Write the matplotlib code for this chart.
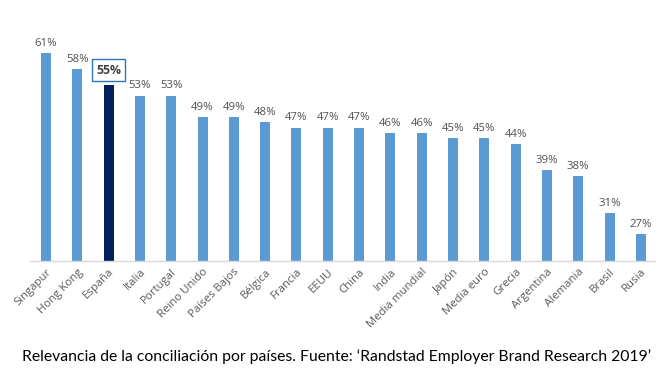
import matplotlib
matplotlib.use('Agg')
import matplotlib.pyplot as plt

paises = ['Singapur', 'Hong Kong', 'España', 'Italia', 'Portugal', 'Reino Unido',
          'Países Bajos', 'Bélgica', 'Francia', 'EEUU', 'China', 'India',
          'Media mundial', 'Japón', 'Media euro', 'Grecia', 'Argentina',
          'Alemania', 'Brasil', 'Rusia']
valores = [61, 58, 55, 53, 53, 49, 49, 48, 47, 47, 47, 46, 46, 45, 45, 44,
           39, 38, 31, 27]
destacado = 'España'

plt.rcParams['font.family'] = ['Open Sans', 'DejaVu Sans']

fig = plt.figure(figsize=(6.72, 3.78), dpi=100)
ax = fig.add_axes([30 / 672, 1 - 261 / 378, 625 / 672, 256 / 378])

colores = ['#002060' if p == destacado else '#5B9BD5' for p in paises]
x = list(range(len(paises)))
ax.bar(x, [v - 22 for v in valores], bottom=22, width=0.32, color=colores)

for i, (p, v) in enumerate(zip(paises, valores)):
    if p == destacado:
        ax.annotate(f'{v}%', (i, v), xytext=(0, 6), textcoords='offset points',
                    ha='center', va='bottom', fontsize=8.8, fontweight='bold',
                    color='#404040',
                    bbox=dict(boxstyle='square,pad=0.35', fc='white',
                              ec='#2E75B6', lw=1))
    else:
        ax.annotate(f'{v}%', (i, v), xytext=(0, 3), textcoords='offset points',
                    ha='center', va='bottom', fontsize=8.2, color='#505050')

ax.set_xlim(-0.51, 19.45)
ax.set_ylim(22, 70)
ax.set_yticks([])
ax.set_xticks(x)
ax.set_xticklabels(paises, rotation=45, ha='right', rotation_mode='anchor',
                   fontsize=8.2, color='#595959')
ax.tick_params(axis='x', length=0, pad=4)
for s in ['top', 'right', 'left']:
    ax.spines[s].set_visible(False)
ax.spines['bottom'].set_color('#D9D9D9')
ax.spines['bottom'].set_linewidth(1)

fig.text(22 / 672, 1 - 357 / 378,
         'Relevancia de la conciliación por países. Fuente: \u2018Randstad Employer Brand Research 2019\u2019',
         fontsize=11.3, color='black', va='center', ha='left', family=['Lato', 'DejaVu Sans'])

fig.savefig('out.png', dpi=100)
